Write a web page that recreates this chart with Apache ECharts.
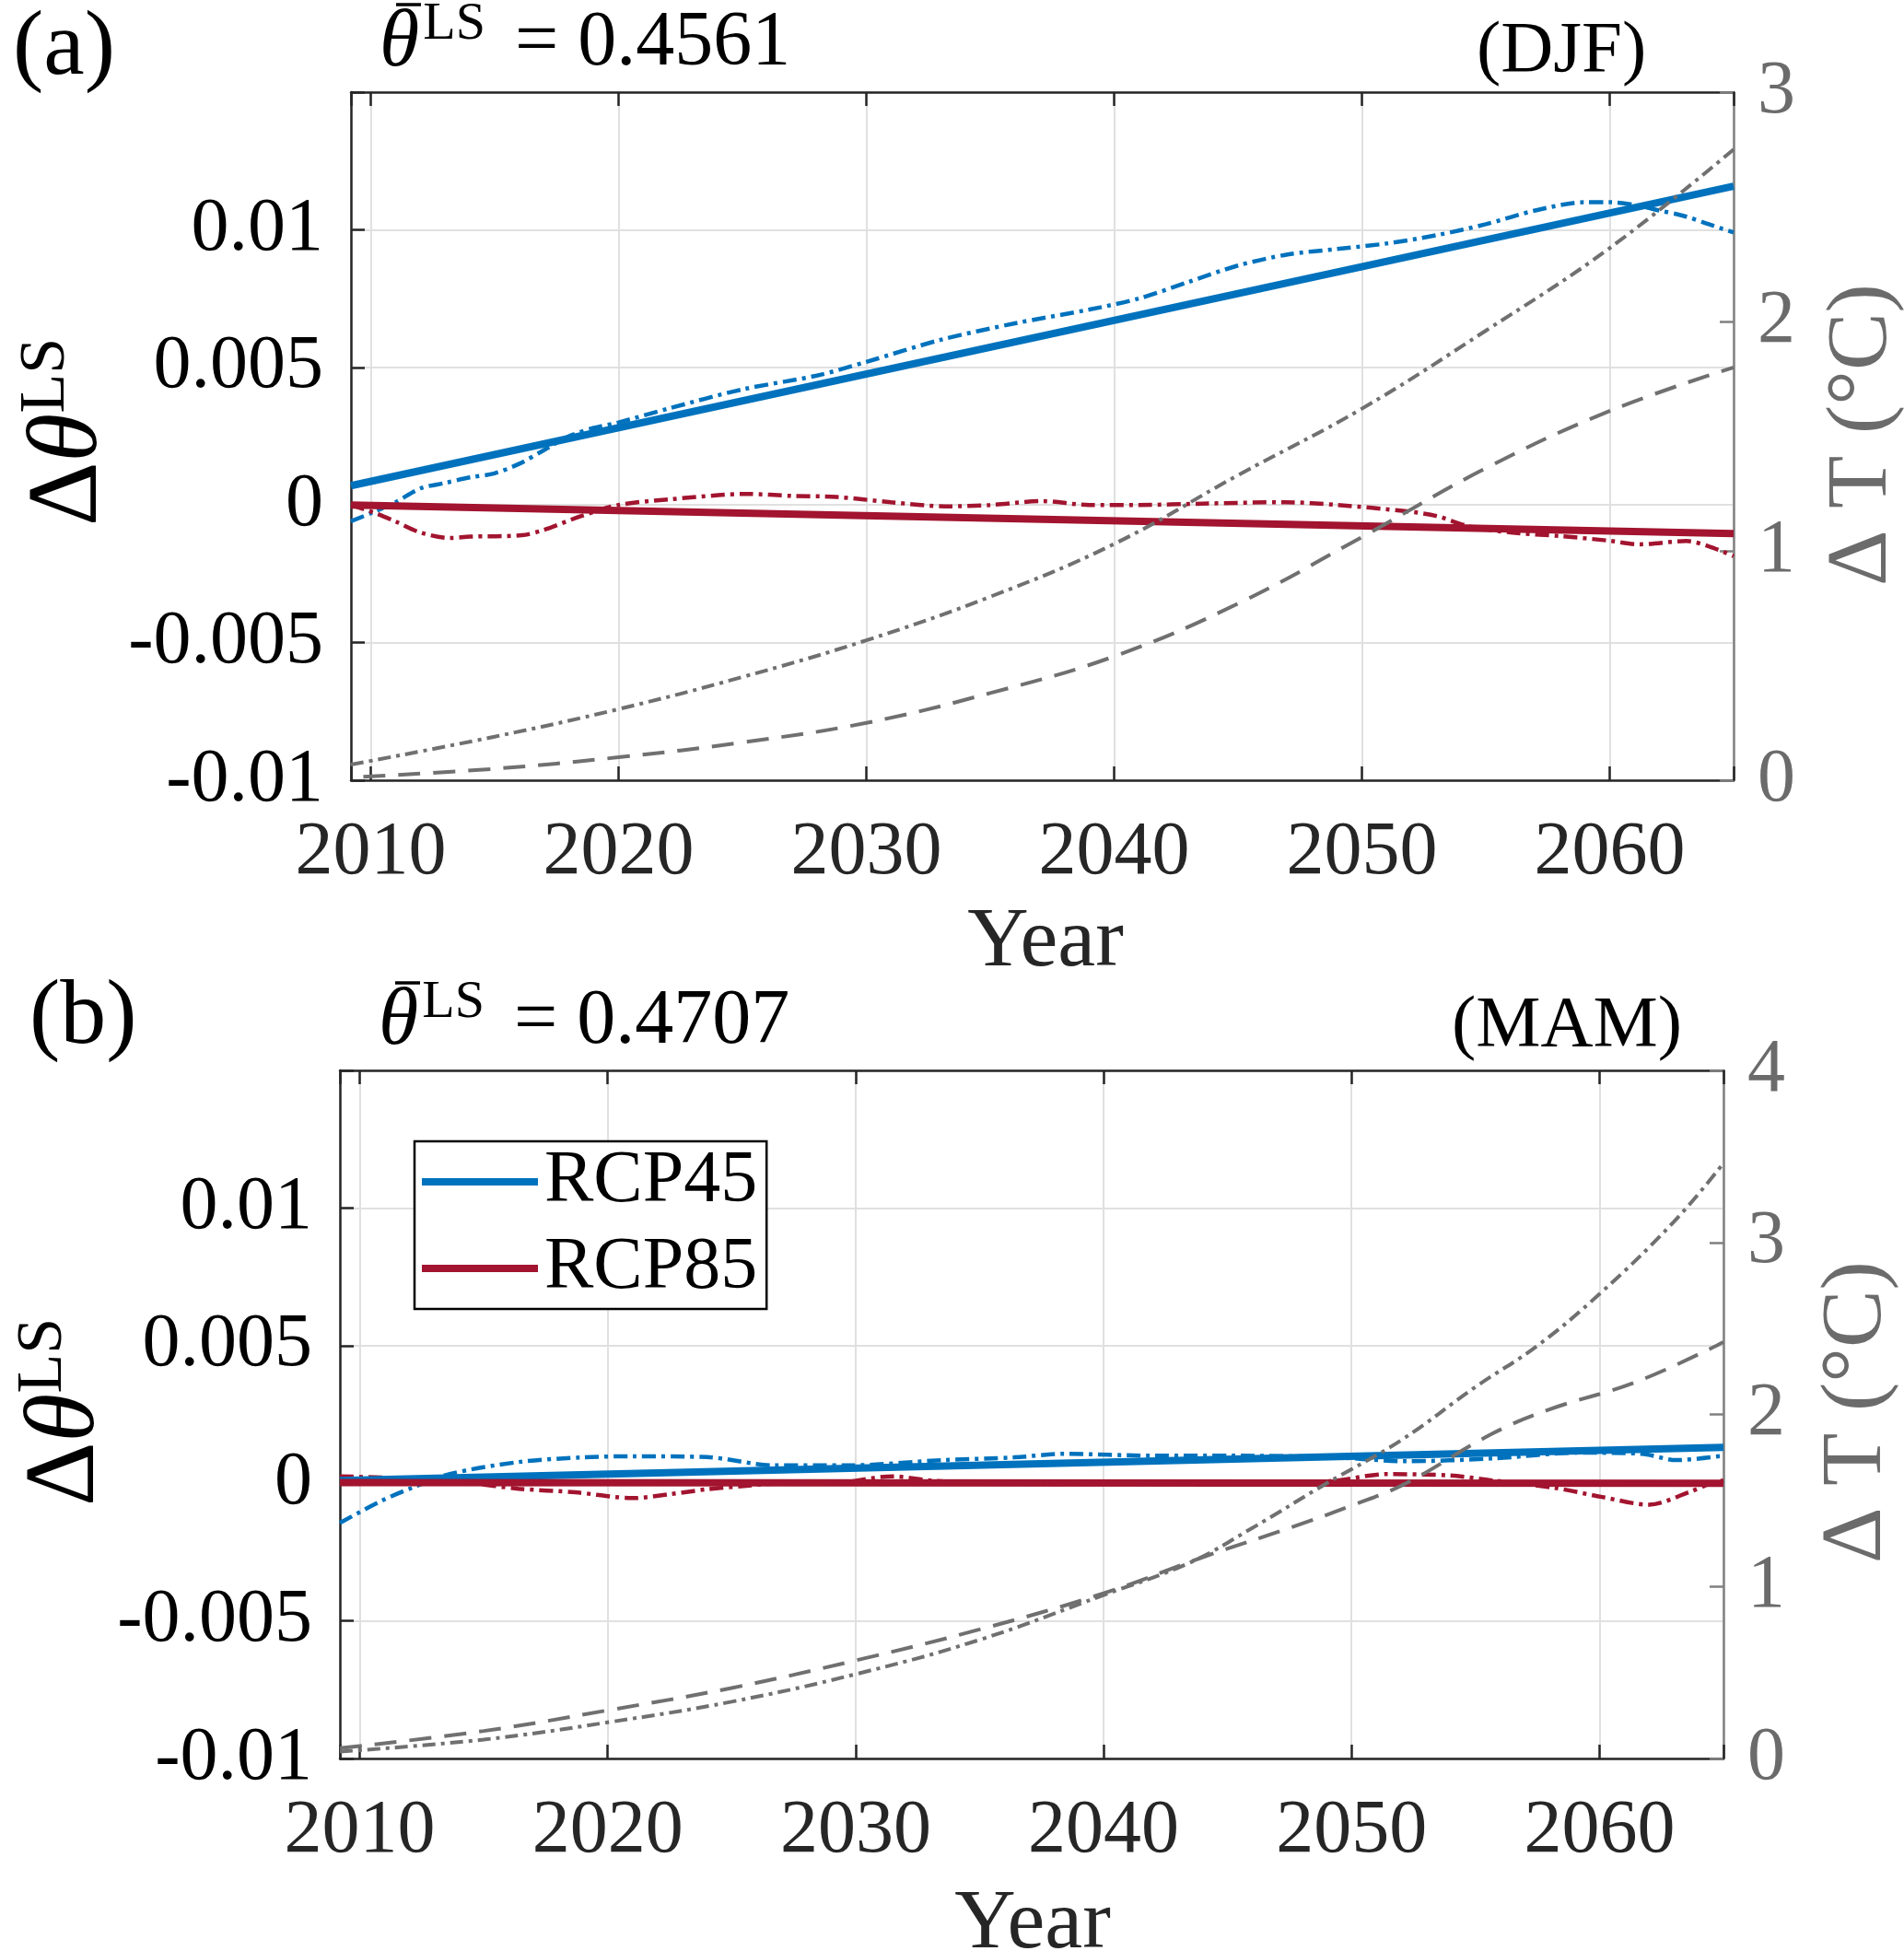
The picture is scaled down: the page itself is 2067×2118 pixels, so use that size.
<!DOCTYPE html>
<html>
<head>
<meta charset="utf-8">
<script src="https://cdn.jsdelivr.net/npm/echarts@6/dist/echarts.min.js"></script>
<style>html,body{margin:0;padding:0;background:#fff;}#chart{width:2067px;height:2118px;}</style>
</head>
<body>
<div id="chart"></div>
<script>
// ---------- DATA ----------
const trendYears = [2009.2, 2065];
const a45Trend = [0.0007, 0.01158];
const a85Trend = [0.0, -0.00104];
const b45Trend = [0.0001, 0.0013];
const b85Trend = [0.00002, 0.0];

const yearsA45s = [2009.2,2010,2011,2012,2013,2014,2015,2016,2017,2018,2019,2020,2022,2025,2028,2030,2033,2036,2039,2041,2043,2045,2047,2049,2051,2053,2055,2057,2059,2060,2061,2062,2063,2064,2065];
const valsA45s = [-0.00059,-0.0003,0.0001,0.0006,0.0008,0.0010,0.00115,0.0015,0.0020,0.0025,0.0028,0.0030,0.0035,0.0042,0.0047,0.0052,0.0060,0.0066,0.0071,0.0075,0.0081,0.0087,0.0091,0.0093,0.0095,0.0098,0.0102,0.0107,0.0110,0.0110,0.0109,0.0107,0.0105,0.0102,0.0099];

const yearsA85s = [2009.2,2010.2,2011,2012,2013.2,2014,2016.1,2017,2018.5,2020,2022,2025.2,2027,2028.8,2031,2033.2,2035,2037.1,2039,2041,2043.6,2046.9,2049,2051.8,2053,2054.3,2056,2058,2060,2061.2,2063.1,2064,2065];
const valsA85s = [0.0,-0.0003,-0.0006,-0.001,-0.0012,-0.00115,-0.0011,-0.0009,-0.0004,0.0,0.0002,0.0004,0.00033,0.00029,0.0001,-0.00005,0.0,0.00014,0.0,0.0,0.00005,0.0001,0.0,-0.00023,-0.0004,-0.00077,-0.001,-0.00113,-0.0013,-0.00143,-0.00131,-0.0015,-0.00186];

const yearsAT85 = [2009.2,2015,2020,2025,2030,2035,2040,2045,2050,2055,2060,2065];
const valsAT85 = [0.068,0.19,0.31,0.45,0.61,0.80,1.03,1.33,1.62,1.96,2.32,2.75];

const yearsAT45 = [2009.7,2015,2020,2025,2030,2035,2040,2045,2050,2055,2060,2065];
const valsAT45 = [0.015,0.05,0.1,0.165,0.25,0.38,0.54,0.77,1.06,1.36,1.61,1.80];

const yearsB45s = [2009.2,2010.9,2012.1,2013.6,2016.4,2019,2021,2024,2026.7,2029.7,2033.5,2036.4,2038.4,2042,2045.2,2049.3,2052.2,2055.7,2059.2,2061.7,2063.1,2065];
const valsB45s = [-0.00144,-0.00063,-0.00017,0.00033,0.00077,0.00094,0.00098,0.00095,0.00065,0.00065,0.00084,0.00094,0.00107,0.001,0.001,0.00094,0.0008,0.0009,0.00111,0.00107,0.00084,0.001];

const yearsB85s = [2009.2,2011,2012.7,2014.5,2016.4,2018.7,2021,2022.5,2024,2025.5,2027,2029,2031.5,2033,2035,2040,2045,2048,2049.4,2051.4,2054,2055.7,2058.2,2060.1,2062,2063.6,2064.5,2065];
const valsB85s = [0.00025,0.0002,0.0001,0.0,-0.0002,-0.00033,-0.00054,-0.0004,-0.00022,-0.0001,0.0,0.0,0.00025,0.0001,0.0,-0.00003,0.0,0.0,0.0001,0.00033,0.00028,0.0001,-0.00017,-0.0005,-0.00078,-0.00033,0.0,0.0001];

const yearsBT85 = [2009.2,2015,2020,2025,2030,2035,2040,2043.5,2046,2049,2052,2055,2057.5,2060,2063,2065];
const valsBT85 = [0.04,0.11,0.21,0.33,0.49,0.69,0.95,1.14,1.34,1.6,1.85,2.16,2.4,2.7,3.12,3.46];

const yearsBT45 = [2009.2,2015,2020,2025,2030,2035,2040,2044,2047.7,2050,2052.2,2055.7,2058,2061.5,2065];
const valsBT45 = [0.06,0.16,0.28,0.41,0.57,0.75,0.96,1.17,1.35,1.47,1.6,1.89,2.03,2.19,2.42];

const leftTicks = [-0.01, 0.015, 0.005];   // min, max, interval
const rightMaxA = 3, rightMaxB = 4;
const xRange = [2009.2, 2065];
const titleA = '0.4561', titleB = '0.4707';
const seasonA = '(DJF)', seasonB = '(MAM)';
const legendNames = ['RCP45', 'RCP85'];

// ---------- STYLE ----------
const FONT = 'Liberation Serif';
const BLUE = '#0072BD', RED = '#A2142F', GRAY = '#707070', DARK = '#262626';
const zip = (xs, ys) => xs.map((x, i) => [x, ys[i]]);

const chart = echarts.init(document.getElementById('chart'), null, {renderer: 'canvas'});

const grids = [
  {left: 381, top: 100, width: 1501, height: 747, outerBoundsMode: 'none'},
  {left: 369, top: 1162, width: 1502, height: 747, outerBoundsMode: 'none'}
];

function xAxes(gi) {
  return [
    {
      type: 'value', gridIndex: gi, position: 'bottom', min: xRange[0], max: xRange[1], splitNumber: 5,
      axisLine: {show: true, onZero: false, lineStyle: {color: DARK, width: 2.5}},
      axisTick: {show: true, inside: true, length: 15, lineStyle: {color: DARK, width: 2.5}},
      axisLabel: {show: true, margin: 38, fontFamily: FONT, fontSize: 82, color: DARK,
        formatter: v => (Math.abs(v - Math.round(v / 10) * 10) < 1e-6 ? String(Math.round(v)) : '')},
      splitLine: {show: true, lineStyle: {color: '#e0e0e0', width: 2}}
    },
    {
      type: 'value', gridIndex: gi, position: 'top', min: xRange[0], max: xRange[1], splitNumber: 5,
      axisLine: {show: true, onZero: false, lineStyle: {color: DARK, width: 2.5}},
      axisTick: {show: true, inside: true, length: 15, lineStyle: {color: DARK, width: 2.5}},
      axisLabel: {show: false}, splitLine: {show: false}
    }
  ];
}

function yAxes(gi, rmax) {
  return [
    {
      type: 'value', gridIndex: gi, position: 'left', min: leftTicks[0], max: leftTicks[1], interval: leftTicks[2],
      axisLine: {show: true, onZero: false, lineStyle: {color: DARK, width: 2.5}},
      axisTick: {show: true, inside: true, length: 15, lineStyle: {color: DARK, width: 2.5}},
      axisLabel: {show: true, margin: 30, fontFamily: FONT, fontSize: 82, color: '#000',
        formatter: v => (v > 0.012 ? '' : String(Math.round(v * 1000) / 1000))},
      splitLine: {show: true, lineStyle: {color: '#e0e0e0', width: 2}}
    },
    {
      type: 'value', gridIndex: gi, position: 'right', min: 0, max: rmax, interval: 1,
      axisLine: {show: true, onZero: false, lineStyle: {color: '#808080', width: 2.5}},
      axisTick: {show: true, inside: true, length: 15, lineStyle: {color: '#808080', width: 2.5}},
      axisLabel: {show: true, margin: 26, fontFamily: FONT, fontSize: 82, color: '#6b6b6b'},
      splitLine: {show: false}
    }
  ];
}

function line(name, data, xi, yi, color, width, type, smooth) {
  return {
    name, type: 'line', data, xAxisIndex: xi, yAxisIndex: yi, showSymbol: false, symbol: 'none',
    smooth: smooth, silent: true, animation: false, clip: true,
    lineStyle: {color, width, type, cap: 'butt'}, itemStyle: {color}
  };
}

const DD = [15, 6, 4, 6];
const GDD = [14, 6, 4, 6];
const GD = [24, 14];

const series = [
  // panel a
  line('a45s', zip(yearsA45s, valsA45s), 0, 0, BLUE, 4.5, DD, 0.3),
  line('a85s', zip(yearsA85s, valsA85s), 0, 0, RED, 4.5, DD, 0.3),
  line('a45t', zip(trendYears, a45Trend), 0, 0, BLUE, 8, 'solid', false),
  line('a85t', zip(trendYears, a85Trend), 0, 0, RED, 8, 'solid', false),
  line('aT85', zip(yearsAT85, valsAT85), 0, 1, GRAY, 4, GDD, 0.4),
  line('aT45', zip(yearsAT45, valsAT45), 0, 1, GRAY, 4, GD, 0.4),
  // panel b
  line('b45s', zip(yearsB45s, valsB45s), 2, 2, BLUE, 4.5, DD, 0.3),
  line('b85s', zip(yearsB85s, valsB85s), 2, 2, RED, 4.5, DD, 0.3),
  line(legendNames[0], zip(trendYears, b45Trend), 2, 2, BLUE, 8, 'solid', false),
  line(legendNames[1], zip(trendYears, b85Trend), 2, 2, RED, 8, 'solid', false),
  line('bT85', zip(yearsBT85, valsBT85), 2, 3, GRAY, 4, GDD, 0.4),
  line('bT45', zip(yearsBT45, valsBT45), 2, 3, GRAY, 4, GD, 0.4)
];

const mathRich = {
  t: {fontFamily: FONT, fontSize: 88, fontStyle: 'italic', lineHeight: 100, color: '#000', padding: [0, 4, 0, 0]},
  s: {fontFamily: FONT, fontSize: 58, lineHeight: 64, verticalAlign: 'top', color: '#000'},
  n: {fontFamily: FONT, fontSize: 84, lineHeight: 100, color: '#000', padding: [0, 0, 0, 32]}
};
const nameRich = {
  d: {fontFamily: FONT, fontSize: 108, lineHeight: 120, color: '#000'},
  t: {fontFamily: FONT, fontSize: 108, fontStyle: 'italic', lineHeight: 120, color: '#000'},
  s: {fontFamily: FONT, fontSize: 70, lineHeight: 70, verticalAlign: 'top', color: '#000'}
};

function txt(x, y, text, size, opts) {
  opts = opts || {};
  return {
    type: 'text', x, y, rotation: opts.rot || 0, silent: true, z: 100,
    style: {text, fontFamily: FONT, fontSize: size, fill: opts.color || '#000',
      align: opts.align || 'left', verticalAlign: 'middle', rich: opts.rich}
  };
}
function bar(x1, x2, y) {
  return {type: 'line', silent: true, z: 100, shape: {x1, y1: y, x2, y2: y}, style: {stroke: '#000', lineWidth: 3.5}};
}

const graphic = [
  txt(14, 54, '(a)', 100),
  txt(412, 48, '{t|\u03B8}{s|LS}{n|= ' + titleA + '}', 84, {rich: mathRich}),
  bar(430, 457, 5),
  txt(1603, 56, seasonA, 79),
  txt(76, 469, '{d|\u0394}{t|\u03B8}{s|LS}', 108, {rot: Math.PI / 2, align: 'center', rich: nameRich}),
  txt(2022, 472, '\u0394 T (\u00B0C)', 94, {rot: Math.PI / 2, align: 'center', color: '#6b6b6b'}),
  txt(1135, 1024, 'Year', 92, {align: 'center', color: DARK}),

  txt(32, 1106, '(b)', 100),
  txt(411, 1110, '{t|\u03B8}{s|LS}{n|= ' + titleB + '}', 84, {rich: mathRich}),
  bar(429, 456, 1067),
  txt(1576, 1114, seasonB, 79),
  txt(73, 1533, '{d|\u0394}{t|\u03B8}{s|LS}', 108, {rot: Math.PI / 2, align: 'center', rich: nameRich}),
  txt(2016, 1533, '\u0394 T (\u00B0C)', 94, {rot: Math.PI / 2, align: 'center', color: '#6b6b6b'}),
  txt(1121, 2090, 'Year', 92, {align: 'center', color: DARK})
];

chart.setOption({
  backgroundColor: '#fff',
  animation: false,
  grid: grids,
  xAxis: [...xAxes(0), ...xAxes(1)],
  yAxis: [...yAxes(0, rightMaxA), ...yAxes(1, rightMaxB)],
  legend: {
    data: legendNames.map(n => ({name: n, icon: 'rect'})),
    orient: 'vertical', left: 450, top: 1239, itemWidth: 126, itemHeight: 8, itemGap: 14,
    padding: [4, 10, 4, 8], borderColor: '#000', borderWidth: 2.5, backgroundColor: '#fff',
    textStyle: {fontFamily: FONT, fontSize: 80, color: '#000', padding: [0, 0, 0, 2]},
    selectedMode: false
  },
  series,
  graphic
});
</script>
</body>
</html>
